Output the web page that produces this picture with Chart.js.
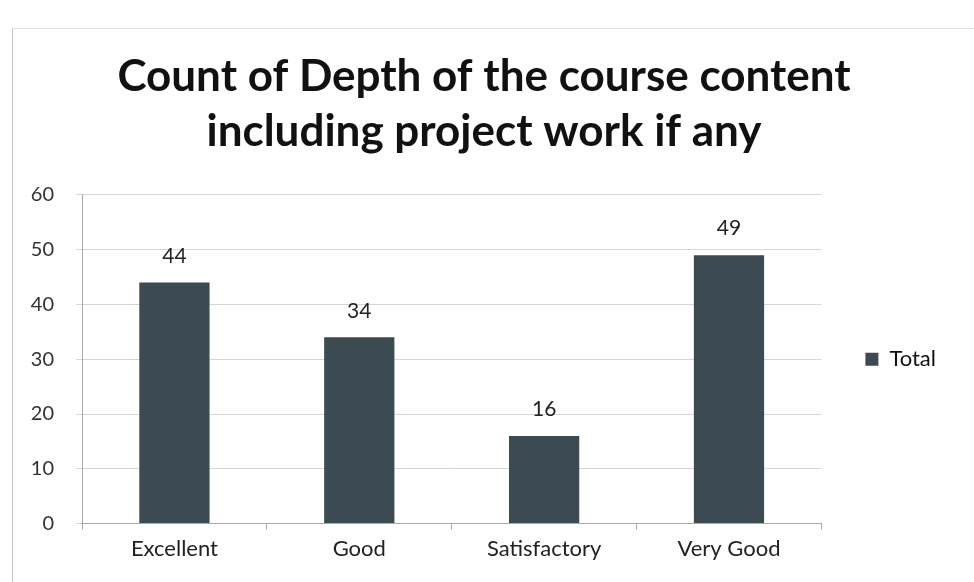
<!DOCTYPE html>
<html>
<head>
<meta charset="utf-8">
<script src="https://cdn.jsdelivr.net/npm/chart.js@4"></script>
<style>
  html, body { margin: 0; padding: 0; background: #fff; }
  #wrap { position: relative; width: 974px; height: 582px; }
  #frame { position: absolute; left: 12px; top: 28px; width: 970px; height: 560px; border-left: 1px solid #c8c8c8; border-top: 1px solid #e2e2e2; }
</style>
</head>
<body>
<div id="wrap">
  <div id="frame"></div>
  <canvas id="myChart" width="974" height="582"></canvas>
</div>
<script>
(() => {
  'use strict';

  const categories = ['Excellent', 'Good', 'Satisfactory', 'Very Good'];
  const totals = [44, 34, 16, 49];
  const seriesName = 'Total';
  const titleLines = ['Count of Depth of the course content', 'including project work if any'];

  const barColor = '#3c4a51';
  const font = 'Lato, "Open Sans", sans-serif';

  // draws the count above every bar
  const valueLabels = {
    id: 'valueLabels',
    afterDatasetsDraw(chart) {
      const ctx = chart.ctx;
      const meta = chart.getDatasetMeta(0);
      ctx.save();
      ctx.font = '21px ' + font;
      ctx.fillStyle = '#222';
      ctx.textAlign = 'center';
      ctx.textBaseline = 'bottom';
      meta.data.forEach((bar, i) => {
        ctx.fillText(String(chart.data.datasets[0].data[i]), bar.x, bar.y - 16);
      });
      ctx.restore();
    }
  };

  const ctx = document.getElementById('myChart').getContext('2d');
  new Chart(ctx, {
    type: 'bar',
    data: {
      labels: categories,
      datasets: [{
        label: seriesName,
        data: totals,
        backgroundColor: barColor,
        borderWidth: 0,
        categoryPercentage: 1,
        barPercentage: 0.38
      }]
    },
    options: {
      responsive: false,
      animation: false,
      layout: { padding: { left: 22, right: 28, top: 49, bottom: 14 } },
      scales: {
        x: {
          grid: { drawOnChartArea: false, drawTicks: true, tickLength: 6, color: '#aaa' },
          border: { color: '#aaa' },
          ticks: { color: '#222', font: { family: font, size: 22 }, padding: 6 }
        },
        y: {
          min: 0,
          max: 60,
          afterFit(scale) { scale.width = 60; },
          grid: { color: '#d6d6d6', tickLength: 6 },
          border: { color: '#aaa' },
          ticks: { stepSize: 10, color: '#333', font: { family: font, size: 20 }, padding: 22 }
        }
      },
      plugins: {
        title: {
          display: true,
          text: titleLines,
          color: '#111',
          font: { family: font, size: 44, weight: 'bold', lineHeight: 1.26 },
          padding: { top: 0, bottom: 35 }
        },
        legend: {
          position: 'right',
          fullSize: false,
          labels: {
            color: '#111',
            font: { family: font, size: 22 },
            boxWidth: 13,
            boxHeight: 13,
            padding: 44
          }
        },
        tooltip: { enabled: false }
      }
    },
    plugins: [valueLabels]
  });
})();
</script>
</body>
</html>
